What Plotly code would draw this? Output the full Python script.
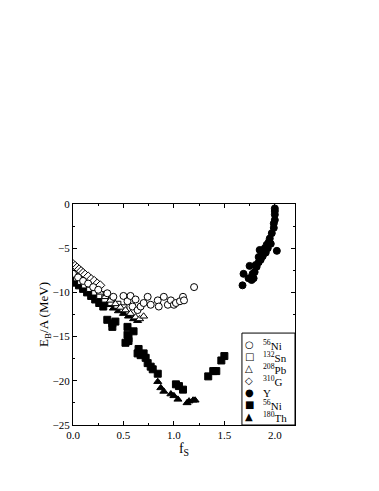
import plotly.graph_objects as go

# open circles, 56Ni
ni_open_f = [0.0, 0.05, 0.1, 0.15, 0.2, 0.25, 0.34, 0.4, 0.5, 0.54, 0.57, 0.59, 0.62, 0.64, 0.67,
             0.7, 0.74, 0.77, 0.84, 0.85, 0.9, 0.94, 0.97, 1.0, 1.02, 1.06, 1.09, 1.1, 1.2]
ni_open_e = [-7.9, -8.3, -8.7, -9.0, -9.4, -9.7, -10.1, -10.5, -10.4, -11.0, -10.4, -11.6, -10.8, -12.0, -11.6,
             -11.2, -10.5, -11.4, -10.9, -11.6, -10.5, -11.4, -10.9, -11.4, -11.2, -11.0, -10.5, -10.9, -9.4]

# open squares, 132Sn
sn_f = [0.0, 0.04, 0.08, 0.12, 0.17, 0.22, 0.27, 0.32, 0.38, 0.44, 0.5]
sn_e = [-8.0, -8.3, -8.7, -9.1, -9.5, -9.9, -10.3, -10.7, -11.1, -11.4, -11.8]

# open triangles, 208Pb
pb_f = [0.0, 0.03, 0.06, 0.1, 0.14, 0.18, 0.22, 0.27, 0.32, 0.37, 0.42, 0.47, 0.52, 0.57, 0.62, 0.66, 0.7]
pb_e = [-7.4, -7.7, -8.0, -8.4, -8.8, -9.2, -9.6, -10.0, -10.5, -10.9, -11.3, -11.7, -12.0, -12.4, -12.8, -13.0, -12.7]

# open diamonds, 310G
g_f = [0.0, 0.02, 0.04, 0.06, 0.08, 0.1, 0.12, 0.15, 0.18, 0.21, 0.24, 0.27]
g_e = [-6.8, -7.0, -7.2, -7.4, -7.6, -7.8, -8.0, -8.2, -8.5, -8.7, -9.0, -9.2]

# filled circles, Y
y_f = [1.68, 1.69, 1.74, 1.77, 1.79, 1.75, 1.8, 1.82, 1.84, 1.84, 1.85, 1.87, 1.89, 1.9, 1.92,
       1.94, 1.95, 1.97, 1.99, 1.99, 2.0, 2.0, 2.0, 2.0, 2.02, 1.78, 1.81, 1.86, 1.88, 1.91, 1.93, 1.96]
y_e = [-9.2, -7.9, -8.4, -8.6, -8.4, -7.0, -7.7, -7.1, -6.6, -6.0, -5.2, -5.8, -5.4, -5.0, -4.6,
       -4.3, -3.9, -3.3, -2.7, -2.2, -1.8, -1.2, -0.8, -0.5, -5.3, -7.9, -6.9, -6.3, -5.9, -5.5, -5.0, -4.5]

# filled squares, 56Ni
ni_fill_f = [0.0, 0.03, 0.06, 0.1, 0.14, 0.18, 0.22, 0.26, 0.3, 0.34, 0.39, 0.39, 0.42,
             0.54, 0.6, 0.54, 0.55, 0.52, 0.55, 0.65, 0.64, 0.67, 0.7, 0.72, 0.74, 0.77, 0.79, 0.84,
             1.02, 1.05, 1.09, 1.34, 1.39, 1.42, 1.47, 1.5]
ni_fill_e = [-8.6, -8.9, -9.2, -9.6, -10.0, -10.4, -10.8, -11.2, -11.6, -13.1, -13.5, -13.9, -13.3,
             -13.9, -14.4, -14.8, -15.2, -15.7, -15.5, -16.4, -16.9, -17.1, -16.9, -17.4, -18.0, -18.4, -18.7, -19.2,
             -20.4, -20.6, -21.0, -19.5, -18.9, -18.9, -17.7, -17.2]

# filled triangles, 180Th
th_f = [0.05, 0.1, 0.15, 0.2, 0.25, 0.3, 0.35, 0.4, 0.45, 0.5, 0.55, 0.6, 0.64,
        0.84, 0.87, 0.9, 0.97, 1.0, 1.04, 1.13, 1.15, 1.19, 1.21]
th_e = [-9.0, -9.4, -9.8, -10.2, -10.6, -11.0, -11.4, -11.8, -12.1, -12.4, -12.7, -13.0, -13.2,
        -20.1, -20.8, -21.2, -21.5, -21.7, -22.1, -22.5, -22.3, -22.2, -22.2]

legend_names = ['<sup>56</sup>Ni', '<sup>132</sup>Sn', '<sup>208</sup>Pb', '<sup>310</sup>G',
                'Y', '<sup>56</sup>Ni', '<sup>180</sup>Th']
legend_glyphs = ['○', '□', '△', '◇', '●', '■', '▲']

fig = go.Figure()


def add(f, e, symbol, filled):
    fig.add_trace(go.Scatter(
        x=f, y=e, mode='markers', showlegend=False,
        marker=dict(symbol=symbol, size=7, color='black' if filled else 'white',
                    line=dict(color='black', width=1))))


add(ni_fill_f, ni_fill_e, 'square', True)
add(th_f, th_e, 'triangle-up', True)
add(y_f, y_e, 'circle', True)
add(sn_f, sn_e, 'square', False)
add(pb_f, pb_e, 'triangle-up', False)
add(g_f, g_e, 'diamond', False)
add(ni_open_f, ni_open_e, 'circle', False)

# legend box drawn by hand so rows can be as tight as in the original
fig.add_shape(type='rect', xref='paper', yref='paper', x0=0.761, x1=1.0, y0=0.0, y1=0.416,
              line=dict(color='black', width=1), fillcolor='white', layer='above')
row0, step = 0.362, 0.0543
for i, (g, n) in enumerate(zip(legend_glyphs, legend_names)):
    yy = row0 - i * step
    fig.add_annotation(xref='paper', yref='paper', x=0.793, y=yy, text=g, showarrow=False,
                       xanchor='center', yanchor='middle',
                       font=dict(family='DejaVu Sans', size=10, color='black'))
    fig.add_annotation(xref='paper', yref='paper', x=0.845, y=yy, text=n, showarrow=False,
                       xanchor='left', yanchor='middle',
                       font=dict(family='Liberation Serif', size=11, color='black'))

axis = dict(showgrid=False, zeroline=False, showline=True, linecolor='black', linewidth=1,
            mirror='ticks', ticks='inside', ticklen=4, tickcolor='black', automargin=False,
            tickfont=dict(family='Liberation Serif', size=11, color='black'))

# page body has an 8px default margin, so pull the plot back by that much
fig.update_layout(
    width=379, height=491,
    margin=dict(l=65, r=92, t=196, b=74),
    paper_bgcolor='white', plot_bgcolor='white',
    font=dict(family='Liberation Serif', color='black'),
    showlegend=False,
    xaxis=dict(axis, range=[0, 2.2], tickvals=[0, 0.5, 1.0, 1.5, 2.0],
               ticktext=['0.0', '0.5', '1.0', '1.5', '2.0'],
               minor=dict(ticks='inside', ticklen=2, dtick=0.25, tickcolor='black'),
               title=dict(text='f<sub>S</sub>', font=dict(size=14), standoff=0)),
    yaxis=dict(axis, range=[-25, 0], dtick=5,
               minor=dict(ticks='inside', ticklen=2, dtick=2.5, tickcolor='black'),
               title=dict(text='E<sub>B</sub>/A (MeV)', font=dict(size=13), standoff=0)),
)

fig.write_html("out.html")
